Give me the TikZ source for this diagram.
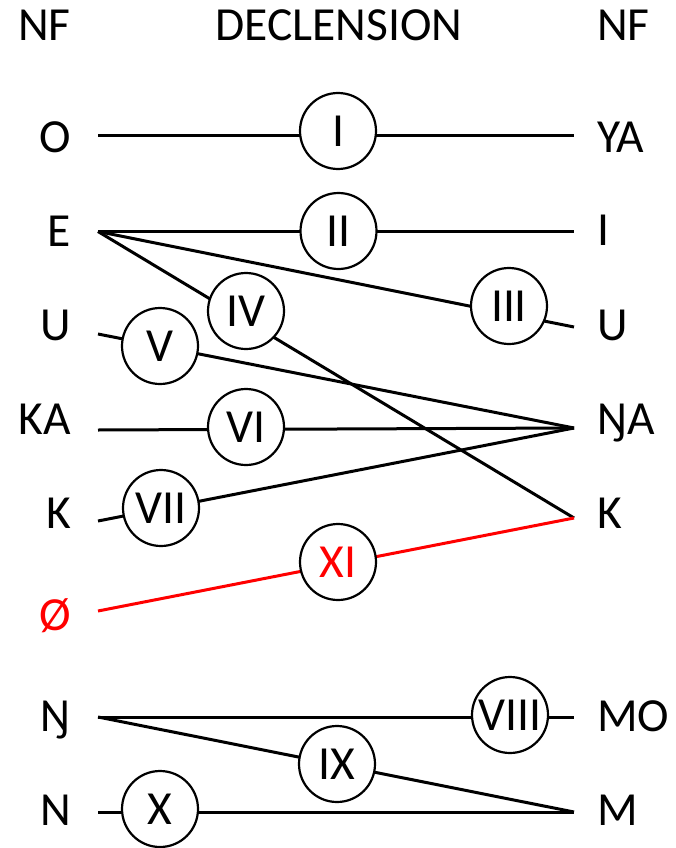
\documentclass[tikz,border=0pt]{standalone}
\usepackage{fontspec}
\setmainfont{Carlito}
\begin{document}
\begin{tikzpicture}[x=1pt,y=-1pt,
  lbl/.style={inner sep=0pt,font=\fontsize{47.5}{52}\selectfont},
  lft/.style={lbl,anchor=base east},
  rgt/.style={lbl,anchor=base west},
  decl/.style={circle,draw,fill=white,line width=2.2pt,minimum size=76pt,inner sep=0pt,font=\fontsize{47.5}{52}\selectfont},
  conn/.style={line width=3pt},
  redconn/.style={line width=3pt,draw=red}]
\useasboundingbox (0,0) rectangle (675,848);
% headers
\node[lft] (hl) at (71,41) {NF};
\node[lbl,anchor=base] (hd) at (339,41) {DECLENSION};
\node[rgt] (hr) at (597,41) {NF};
% left labels
\node[lft] (lO) at (71,152) {O};
\node[lft] (lE) at (71,246) {E};
\node[lft] (lU) at (71,340) {U};
\node[lft] (lKA) at (71,434) {KA};
\node[lft] (lK) at (71,528) {K};
\node[lft,text=red] (lZ) at (71,630) {Ø};
\node[lft] (lNG) at (71,731) {Ŋ};
\node[lft] (lN) at (71,825) {N};
% right labels
\node[rgt] (rYA) at (597,153) {YA};
\node[rgt] (rI) at (597,245) {I};
\node[rgt] (rU) at (597,340) {U};
\node[rgt] (rNGA) at (597,434) {ŊA};
\node[rgt] (rK) at (597,528) {K};
\node[rgt] (rMO) at (597,731) {MO};
\node[rgt] (rM) at (597,825) {M};
% connector ends
\coordinate (aO) at (98,135);
\coordinate (aE) at (98,231.5);
\coordinate (aU) at (98,334);
\coordinate (aKA) at (98,430);
\coordinate (aK) at (98,521);
\coordinate (aZ) at (98,611);
\coordinate (aNG) at (98,717);
\coordinate (aN) at (98,812);
\coordinate (bYA) at (574,135);
\coordinate (bI) at (574,231.5);
\coordinate (bU) at (574,327);
\coordinate (bNGA) at (574,428);
\coordinate (bK) at (574,518);
\coordinate (bMO) at (574,717);
\coordinate (bM) at (574,812);
% connectors
\draw[conn] (aO) -- (bYA);
\draw[conn] (aE) -- (bI);
\draw[conn] (aE) -- (bU);
\draw[conn] (aE) -- (bK);
\draw[conn] (aU) -- (bNGA);
\draw[conn] (aKA) -- (bNGA);
\draw[conn] (aK) -- (bNGA);
\draw[redconn] (aZ) -- (bK);
\draw[conn] (aNG) -- (bMO);
\draw[conn] (aNG) -- (bM);
\draw[conn] (aN) -- (bM);
% declension circles
\node[decl] (d1) at (338,131) {I};
\node[decl] (d2) at (338.5,231) {II};
\node[decl] (d3) at (509,306) {III};
\node[decl] (d4) at (246,311) {IV};
\node[decl] (d5) at (160,346) {V};
\node[decl] (d6) at (246,427) {VI};
\node[decl] (d7) at (161,508) {VII};
\node[decl,text=red] (d11) at (338,562) {XI};
\node[decl] (d8) at (510,715) {VIII};
\node[decl] (d9) at (337,764) {IX};
\node[decl] (d10) at (160,809) {X};
\end{tikzpicture}
\end{document}
